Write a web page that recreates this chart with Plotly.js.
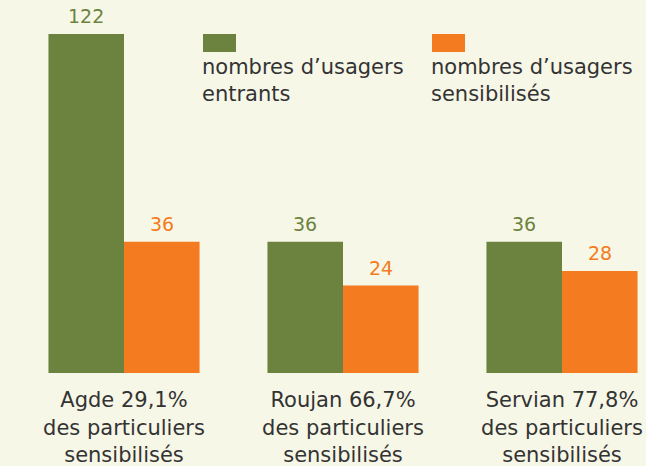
<!DOCTYPE html>
<html>
<head>
<meta charset="utf-8">
<script src="https://cdn.plot.ly/plotly-3.0.1.min.js"></script>
<style>
  html, body { margin: 0; padding: 0; background: #f7f7e7; }
  #chart { width: 646px; height: 466px; }
</style>
</head>
<body>
<div id="chart"></div>
<script>
// Usagers entrants vs sensibilisés par déchèterie
const sites = ["Agde", "Roujan", "Servian"];
const siteLabels = [
  "Agde 29,1%<br>des particuliers<br>sensibilisés",
  "Roujan 66,7%<br>des particuliers<br>sensibilisés",
  "Servian 77,8%<br>des particuliers<br>sensibilisés"
];
const entrants = [122, 36, 36];
const sensibilises = [36, 24, 28];
const seriesNames = ["nombres d’usagers<br>entrants", "nombres d’usagers<br>sensibilisés"];

const GREEN = "#6b833f";
const ORANGE = "#f47b20";
const Y_MAX = 93; // axe tronqué : la barre d'Agde dépasse

function drawChart() {
  const el = document.getElementById("chart");

  // value labels, the 122 one sits at the top of the cut bar
  const labels = [];
  sites.forEach((s, i) => {
    labels.push({
      x: s, y: Math.min(entrants[i], Y_MAX), xref: "x", yref: "y",
      xshift: -37.75, yshift: 5, yanchor: "bottom",
      text: String(entrants[i]), showarrow: false,
      font: { size: 19, color: GREEN }
    });
    labels.push({
      x: s, y: Math.min(sensibilises[i], Y_MAX), xref: "x", yref: "y",
      xshift: 37.75, yshift: 5, yanchor: "bottom",
      text: String(sensibilises[i]), showarrow: false,
      font: { size: 19, color: ORANGE }
    });
  });

  // hand-made legend: swatch above the text
  const legendX = [203, 432];
  const legendColors = [GREEN, ORANGE];
  const shapes = legendX.map((lx, i) => ({
    type: "rect", xref: "paper", yref: "paper",
    x0: lx / 646, x1: (lx + 33) / 646,
    y0: 1 - (52 - 34) / 339, y1: 1,
    fillcolor: legendColors[i], line: { width: 0 }
  }));
  legendX.forEach((lx, i) => {
    labels.push({
      x: (lx - 3) / 646, y: 1 - (53 - 34) / 339, xref: "paper", yref: "paper",
      xanchor: "left", yanchor: "top", align: "left",
      text: seriesNames[i], showarrow: false,
      font: { size: 21, color: "#333333" }
    });
  });

  Plotly.newPlot(el, [
    {
      x: sites, y: entrants, name: "nombres d’usagers entrants",
      type: "bar", marker: { color: GREEN },
      hoverinfo: "x+y"
    },
    {
      x: sites, y: sensibilises, name: "nombres d’usagers sensibilisés",
      type: "bar", marker: { color: ORANGE },
      hoverinfo: "x+y"
    }
  ], {
    barmode: "group",
    bargap: 0.31,
    bargroupgap: 0,
    showlegend: false,
    xaxis: {
      range: [-124 / 219, (646 - 124) / 219],
      tickvals: sites,
      ticktext: siteLabels,
      ticks: "outside", ticklen: 8, tickcolor: "rgba(0,0,0,0)",
      tickfont: { size: 21, color: "#333333" },
      showline: false, zeroline: false, showgrid: false
    },
    yaxis: {
      range: [0, Y_MAX],
      visible: false, showgrid: false, zeroline: false
    },
    annotations: labels,
    shapes: shapes,
    paper_bgcolor: "#f7f7e7",
    plot_bgcolor: "#f7f7e7",
    font: { family: "DejaVu Sans, sans-serif", color: "#333333", size: 19 },
    margin: { t: 34, b: 93, l: 0, r: 0 }
  }, { displayModeBar: false, staticPlot: true });
}

drawChart();
</script>
</body>
</html>
